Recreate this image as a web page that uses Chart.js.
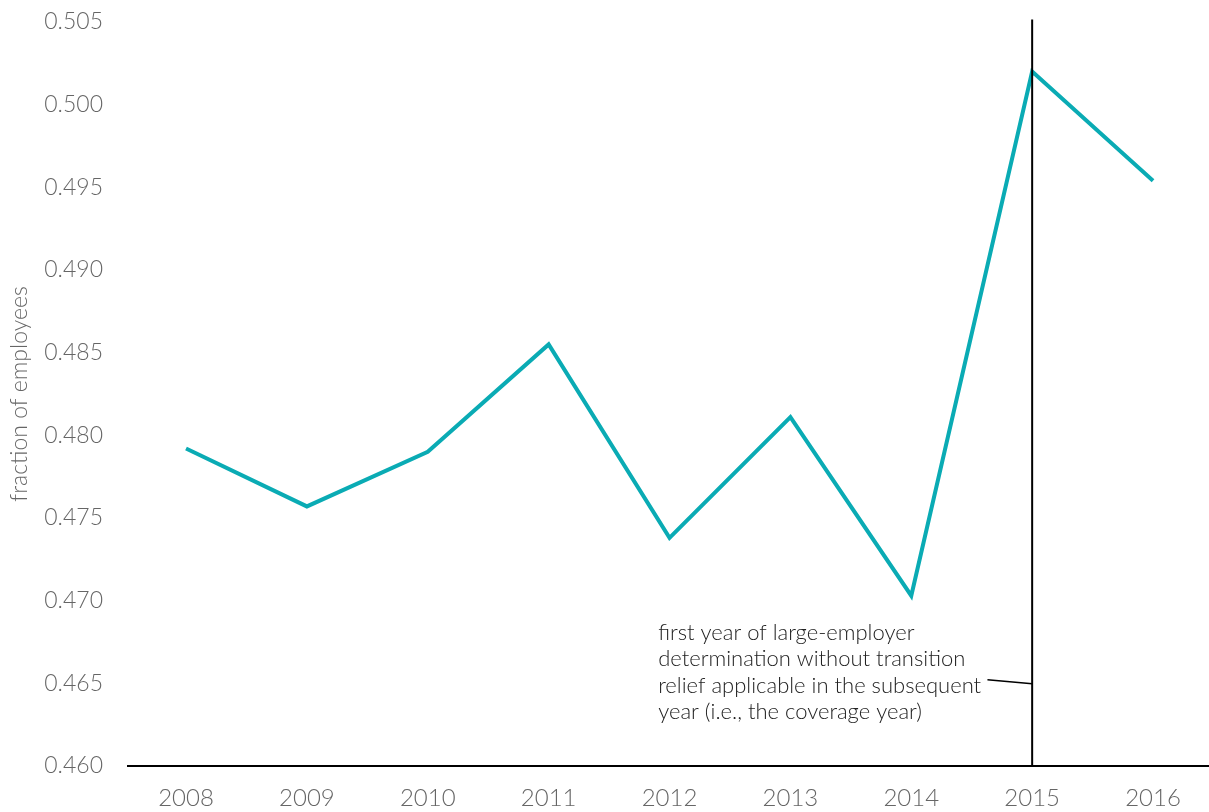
<!DOCTYPE html>
<html>
<head>
<meta charset="utf-8">
<script src="https://cdn.jsdelivr.net/npm/chart.js@4"></script>
<style>
  html, body { margin: 0; padding: 0; background: #fff; }
  #wrap { width: 1209px; height: 812px; }
</style>
</head>
<body>
<div id="wrap"><canvas id="chart"></canvas></div>
<script>
// --- data ---
const years = [2008, 2009, 2010, 2011, 2012, 2013, 2014, 2015, 2016];
const fraction = [0.4792, 0.4757, 0.4790, 0.4855, 0.4738, 0.4811, 0.4703, 0.5020, 0.4954];
const yTicks = [0.460, 0.465, 0.470, 0.475, 0.480, 0.485, 0.490, 0.495, 0.500, 0.505];
const markerYear = 2015;
const noteLines = [
    'first year of large-employer',
    'determination without transition',
    'relief applicable in the subsequent',
    'year (i.e., the coverage year)'
];

const FONT = 'Lato, "Open Sans", sans-serif';

// vertical marker line + annotation
const markerPlugin = {
    id: 'marker',
    afterDatasetsDraw(chart) {
        const { ctx, scales: { x, y } } = chart;
        const px = x.getPixelForValue(markerYear);
        ctx.save();
        ctx.strokeStyle = '#000';
        ctx.lineWidth = 2;
        ctx.beginPath();
        ctx.moveTo(px, y.getPixelForValue(0.50515));
        ctx.lineTo(px, y.bottom);
        ctx.stroke();

        // leader line
        ctx.lineWidth = 1.5;
        ctx.beginPath();
        ctx.moveTo(x.getPixelForValue(2014.63), y.getPixelForValue(0.46522));
        ctx.lineTo(px, y.getPixelForValue(0.46497));
        ctx.stroke();

        // text
        ctx.fillStyle = '#222';
        ctx.font = '300 22px ' + FONT;
        ctx.textAlign = 'left';
        ctx.textBaseline = 'middle';
        const tx = x.getPixelForValue(2011.906);
        const ty = y.getPixelForValue(0.46807);
        noteLines.forEach((line, i) => ctx.fillText(line, tx, ty + i * 26.6));
        ctx.restore();
    }
};

const ctx = document.getElementById('chart').getContext('2d');
new Chart(ctx, {
    type: 'line',
    data: {
        datasets: [{
            data: years.map((yr, i) => ({ x: yr, y: fraction[i] })),
            borderColor: '#0AABB4',
            borderWidth: 4,
            pointRadius: 0,
            tension: 0,
            fill: false
        }]
    },
    options: {
        responsive: true, maintainAspectRatio: false, animation: false,
        layout: { padding: { top: 22, right: 0, left: 6, bottom: 0 } },
        plugins: { legend: { display: false }, tooltip: { enabled: false } },
        scales: {
            x: {
                type: 'linear', min: 2007.52, max: 2016.463,
                grid: { display: false, drawTicks: false },
                border: { display: true, color: '#000', width: 2 },
                afterBuildTicks: (scale) => { scale.ticks = years.map(v => ({ value: v })); },
                ticks: {
                    color: '#666', font: { family: FONT, size: 24, weight: 300 },
                    padding: 18, maxRotation: 0, autoSkip: false,
                    callback: (v) => String(v)
                },
                afterFit: (scale) => { scale.height = 46; scale.paddingLeft = 0; scale.paddingRight = 0; }
            },
            y: {
                min: 0.460, max: 0.505,
                grid: { display: false, drawTicks: false },
                border: { display: false },
                afterBuildTicks: (scale) => { scale.ticks = yTicks.map(v => ({ value: v })); },
                ticks: {
                    color: '#666', font: { family: FONT, size: 23, weight: 300 },
                    padding: 25,
                    callback: (v) => v.toFixed(3)
                },
                title: {
                    display: true, text: 'fraction of employees',
                    color: '#666', font: { family: FONT, size: 23, weight: 300 },
                    padding: { top: 0, bottom: 0 }
                },
                afterFit: (scale) => { scale.width = 122; scale.paddingTop = 0; scale.paddingBottom = 0; }
            }
        }
    },
    plugins: [markerPlugin]
});
</script>
</body>
</html>
